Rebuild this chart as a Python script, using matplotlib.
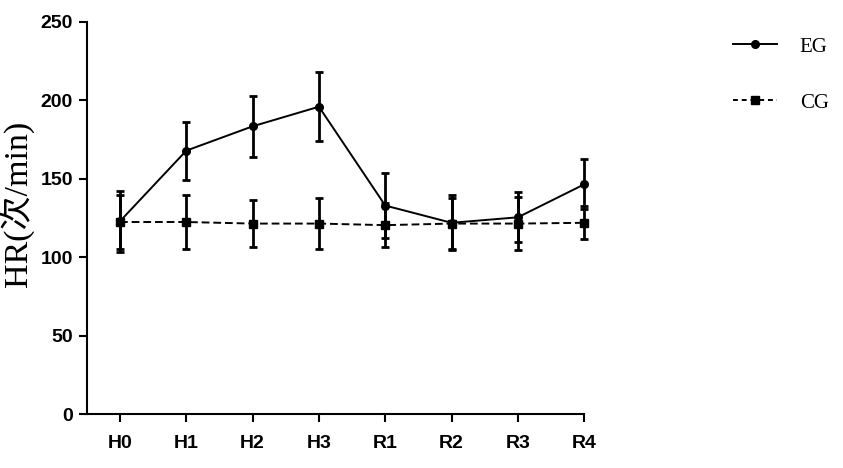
import matplotlib
matplotlib.use("Agg")
import matplotlib.pyplot as plt
from matplotlib.lines import Line2D
import numpy as np

categories = ["H0", "H1", "H2", "H3", "R1", "R2", "R3", "R4"]
eg_mean = [123, 168, 183.5, 196, 133, 122, 125.5, 146.5]
eg_sd = [19.5, 18.5, 19.5, 22, 21, 17.5, 16, 16]
cg_mean = [122.5, 122.5, 121.5, 121.5, 120.5, 121.5, 121.5, 122]
cg_sd = [17, 17, 15, 16, 14, 16, 17, 10.5]
yticks = [0, 50, 100, 150, 200, 250]

fig = plt.figure(figsize=(8.43, 4.68), dpi=100)
ax = fig.add_axes([0.103, 0.115, 0.590, 0.838])

x = np.arange(len(categories))
ax.errorbar(x, eg_mean, yerr=eg_sd, fmt='-o', color='black', lw=1.4,
            ms=5.5, elinewidth=2, capsize=3, capthick=2, zorder=3)
ax.errorbar(x, cg_mean, yerr=cg_sd, fmt='--s', color='black', lw=1.4,
            ms=5.5, elinewidth=2, capsize=3, capthick=2,
            dashes=(4, 2), zorder=2)
for ch in ax.get_children():
    ch.set_clip_on(False)

ax.set_xlim(-0.5, 7)
ax.set_ylim(0, 250)
ax.set_xticks(x)
ax.set_xticklabels(categories)
ax.set_yticks(yticks)
for s in ['top', 'right']:
    ax.spines[s].set_visible(False)
for s in ['left', 'bottom']:
    ax.spines[s].set_linewidth(1.5)
ax.tick_params(axis='both', direction='out', length=6, width=1.5)
ax.tick_params(axis='x', pad=9)
ax.tick_params(axis='y', pad=4)
for lab in ax.get_xticklabels() + ax.get_yticklabels():
    lab.set_fontfamily('Liberation Sans')
    lab.set_fontweight('bold')
    lab.set_fontsize(14)

ax.set_ylabel("HR(次/min)", fontsize=24.5,
              family=['Liberation Serif', 'Noto Sans CJK SC'])
ax.yaxis.set_label_coords(-0.105, 0.535)

handles = [
    Line2D([], [], color='black', lw=1.4, marker='o', ms=5.5),
    Line2D([], [], color='black', lw=1.4, marker='s', ms=5.5,
           linestyle='--', dashes=(2.5, 2)),
]
fig.legend(handles, ['EG', 'CG'], loc='upper left',
           bbox_to_anchor=(733 / 843, 1 - 37 / 468), frameon=False,
           borderpad=0, borderaxespad=0,
           handlelength=2.1, labelspacing=1.75, handletextpad=1.1,
           prop={'family': 'Liberation Serif', 'size': 15})

fig.savefig("out.png", dpi=100)
